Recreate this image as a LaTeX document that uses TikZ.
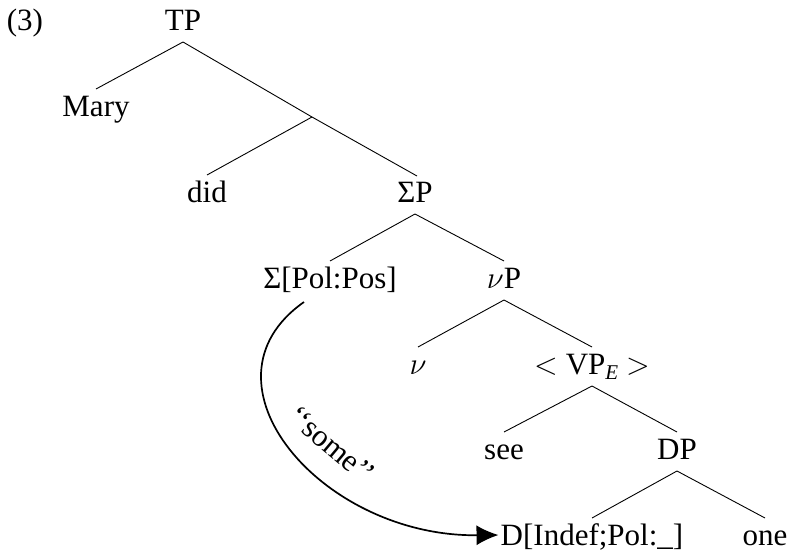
\RequirePackage{fix-cm}
\documentclass[tikz,border=0pt]{standalone}
\usepackage{fontspec}
\setmainfont{Liberation Serif}
\usetikzlibrary{arrows.meta}
\begin{document}
\begin{tikzpicture}[x=1pt,y=-1pt,
  lab/.style={inner sep=0pt, anchor=base, font=\fontsize{31}{36}\selectfont},
  branch/.style={line width=0.9pt},
  agree/.style={line width=1.7pt, -{Latex[length=22pt,width=20pt]}}
]
\useasboundingbox (0,0) rectangle (789,552);

% example number
\node[lab] (exnum) at (25,30) {(3)};

% tree labels, placed on their baselines
\node[lab] (tp)   at (183,30)  {TP};
\node[lab] (mary) at (96,116)  {Mary};
\coordinate (x1)  at (312,117);
\node[lab] (did)  at (207,202) {did};
\node[lab] (sp)   at (415,202) {ΣP};
\node[lab] (sig)  at (330,288) {Σ[Pol:Pos]};
\node[lab] (vp)   at (504,288) {$\nu$P};
\node[lab] (nu)   at (418,374) {$\nu$};
\node[lab] (vpe)  at (592,374) {$<$\hspace{8pt}VP\raisebox{-5pt}{\fontsize{21}{21}\selectfont\itshape E}\hspace{8pt}$>$};
\node[lab] (see)  at (504,459) {see};
\node[lab] (dp)   at (677,459) {DP};
\node[lab] (dnode) at (592,545) {D[Indef;Pol:\_]};
\node[lab] (one)  at (765,545) {one};

% branches
\newcommand\branchto[2]{\draw[branch] ([yshift=-12pt]#1.base) -- ([yshift=27pt]#2.base);}
\branchto{tp}{mary}
\draw[branch] ([yshift=-12pt]tp.base) -- (x1);
\draw[branch] (x1) -- ([yshift=27pt]did.base);
\draw[branch] (x1) -- ([xshift=2pt,yshift=26pt]sp.base);
\branchto{sp}{sig}
\branchto{sp}{vp}
\branchto{vp}{nu}
\branchto{vp}{vpe}
\branchto{vpe}{see}
\branchto{vpe}{dp}
\branchto{dp}{dnode}
\branchto{dp}{one}

% agreement arrow
\draw[agree] ([xshift=-26pt,yshift=-14pt]sig.base)
  .. controls +(-114,80) and +(-177,2) .. ([xshift=-2pt,yshift=10pt]dnode.base west);
\node[lab, anchor=center, rotate=-40] (some) at (332,445) {‘‘some’’};
\end{tikzpicture}
\end{document}
